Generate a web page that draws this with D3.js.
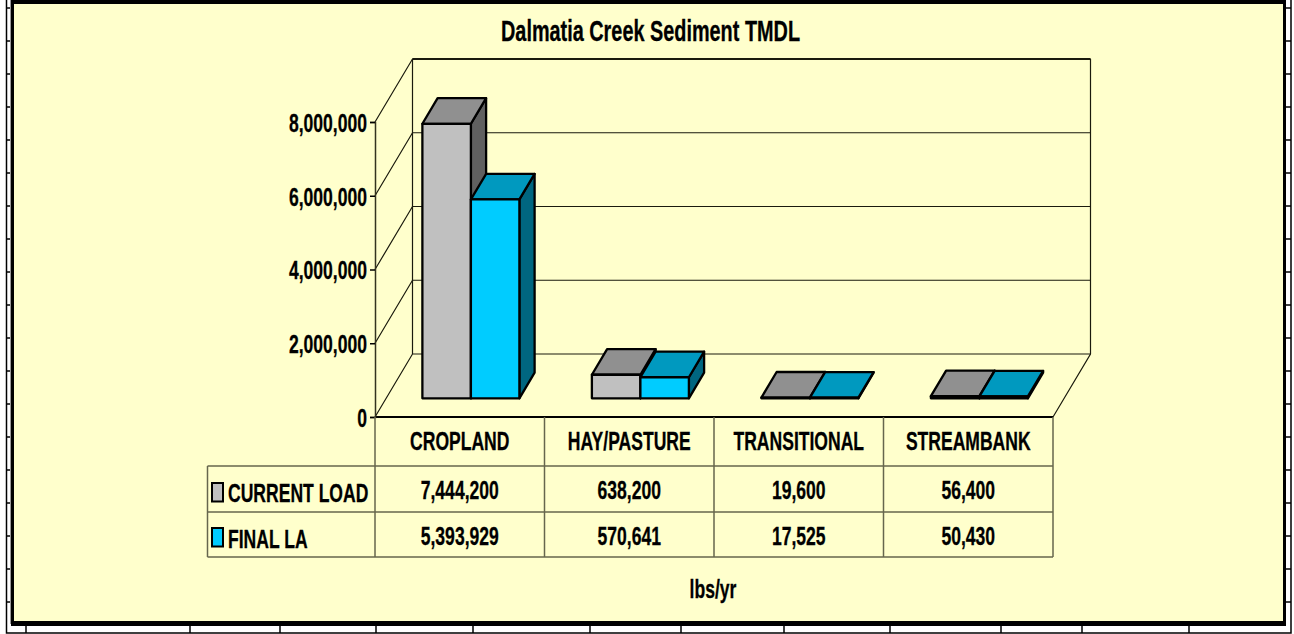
<!DOCTYPE html>
<html>
<head>
<meta charset="utf-8">
<style>
html,body{margin:0;padding:0;background:#fff;}
svg{display:block;}
text{font-family:"Liberation Sans",Arial,sans-serif;font-weight:bold;fill:#000;stroke:#000;stroke-width:0.3px;}
</style>
<script src="https://cdn.jsdelivr.net/npm/d3@7"></script>
</head>
<body>
<svg id="chart" width="1294" height="634"></svg>
<script>
const chartTitle = "Dalmatia Creek Sediment TMDL";
const unitLabel = "lbs/yr";
const categories = ["CROPLAND", "HAY/PASTURE", "TRANSITIONAL", "STREAMBANK"];
const seriesNames = ["CURRENT LOAD", "FINAL LA"];
const currentLoad = [7444200, 638200, 19600, 56400];
const finalLA = [5393929, 570641, 17525, 50430];
const yTicks = [0, 2000000, 4000000, 6000000, 8000000];
const sheetColumns = [26, 190, 280, 376, 473, 590, 681, 784, 890, 1001, 1082, 1189];
const sheetRows = d3.range(8, 620, 33);
const frontColors = ["#C0C0C0", "#00CCFF"];
const topColors = ["#909090", "#0099BF"];
const sideColors = ["#606060", "#006680"];

const seriesValues = [currentLoad, finalLA];
const svg = d3.select("#chart");
const NARROW = 0.675;

// Worksheet showing behind the chart
const sheet = svg.append("g").attr("stroke", "#000").attr("stroke-width", 1.5);
sheet.append("path").attr("fill", "none").attr("d", "M6.5,0V633H1291V0");
sheet.selectAll(".colTick").data(sheetColumns).join("line")
  .attr("x1", d => d).attr("x2", d => d).attr("y1", 624).attr("y2", 633);
sheet.selectAll(".rowL").data(sheetRows).join("line")
  .attr("x1", 7).attr("x2", 12).attr("y1", d => d).attr("y2", d => d);
sheet.selectAll(".rowR").data(sheetRows).join("line")
  .attr("x1", 1285).attr("x2", 1291).attr("y1", d => d).attr("y2", d => d);
svg.append("line").attr("x1", 10.5).attr("x2", 10.5).attr("y1", 0).attr("y2", 624)
  .attr("stroke", "#999").attr("stroke-width", 1);

// Chart area with its heavy frame
svg.append("rect").attr("x", 11).attr("y", 0).attr("width", 1275).attr("height", 626).attr("fill", "#000");
svg.append("rect").attr("x", 14).attr("y", 4).attr("width", 1269).attr("height", 617).attr("fill", "#FFFFCC");

// Scales
const x = d3.scaleBand().domain(categories).range([375, 1053]);
const barGroup = 97;
const s = d3.scaleBand().domain(seriesNames)
  .range([(x.bandwidth() - barGroup) / 2, (x.bandwidth() + barGroup) / 2]);
const y = d3.scaleLinear().domain([0, 8000000]).range([417, 122]);
const depthX = d3.scaleLinear().domain([0, 1]).range([0, 37.5]);
const depthY = d3.scaleLinear().domain([0, 1]).range([0, -63]);
const project = (px, v, d) => [px + depthX(d), y(v) + depthY(d)];
const line3 = d3.line();

function narrowText(sel, px, py, anchor, size, str, narrow = NARROW) {
  return sel.append("text")
    .attr("transform", `translate(${px},${py}) scale(${narrow},1)`)
    .attr("text-anchor", anchor)
    .attr("font-size", size)
    .text(str);
}

// Walls and floor
const walls = svg.append("g").attr("fill", "none").attr("stroke", "#1a1a0d").attr("stroke-width", 1.2);
const x0 = x.range()[0], x1 = x.range()[1];
walls.selectAll(".grid").data(yTicks).join("path")
  .attr("d", t => line3([project(x0, t, 0), project(x0, t, 1), project(x1, t, 1)]));
walls.append("path").attr("d", line3([project(x0, 0, 1), project(x0, 8000000, 1)]));
walls.append("path").attr("d", line3([project(x1, 8000000, 1), project(x1, 0, 1), project(x1, 0, 0)]));
walls.append("path").attr("stroke-width", 2).attr("stroke", "#000").attr("d", line3([project(x0, 0, 0), project(x1, 0, 0)]));
walls.append("path").attr("stroke-width", 2).attr("d", line3([project(x0, 8000000, 1), project(x1, 8000000, 1)]));

// 3D bars
const depthFront = 0.297, depthBack = 0.703;
const bars = svg.append("g").attr("stroke", "#000").attr("stroke-width", 2.3).attr("stroke-linejoin", "round");
categories.forEach((c, ci) => {
  seriesNames.forEach((n, si) => {
    const v = seriesValues[si][ci];
    const l = x(c) + s(n), r = l + s.bandwidth();
    const f = (px, val) => project(px, val, depthFront);
    const b = (px, val) => project(px, val, depthBack);
    bars.append("path").attr("fill", sideColors[si]).attr("d", line3([f(r, 0), b(r, 0), b(r, v), f(r, v)]) + "Z");
    bars.append("path").attr("fill", topColors[si]).attr("d", line3([f(l, v), b(l, v), b(r, v), f(r, v)]) + "Z");
    bars.append("path").attr("fill", frontColors[si]).attr("d", line3([f(l, 0), f(r, 0), f(r, v), f(l, v)]) + "Z");
  });
});

// Value axis
const axis = svg.append("g").attr("transform", `translate(${x0},0)`)
  .call(d3.axisLeft(y).tickValues(yTicks).tickSize(5).tickPadding(3).tickFormat(d3.format(",")));
axis.select(".domain").attr("stroke", "#33331f").attr("stroke-width", 1.5);
axis.selectAll("line").attr("stroke", "#000").attr("stroke-width", 1.5);
axis.selectAll("text")
  .attr("font-size", 26).attr("dy", "0.36em")
  .attr("x", -8 / NARROW).attr("transform", `scale(${NARROW},1)`);
axis.attr("font-family", null).attr("font-size", null);

// Data table
const tableTop = 417, rowLines = [466, 512, 557], tableLeft = 207.5;
const table = svg.append("g");
table.selectAll(".h").data(rowLines).join("line")
  .attr("x1", (d) => tableLeft).attr("x2", x1).attr("y1", d => d).attr("y2", d => d)
  .attr("stroke", "#1a1a0d").attr("stroke-width", 1.2);
const colEdges = categories.map(c => x(c)).concat([x1]);
table.selectAll(".v").data(colEdges).join("line")
  .attr("x1", d => d).attr("x2", d => d).attr("y1", tableTop).attr("y2", 557)
  .attr("stroke", "#66664D").attr("stroke-width", 1.5);
table.append("line").attr("x1", tableLeft).attr("x2", tableLeft).attr("y1", 466).attr("y2", 557)
  .attr("stroke", "#66664D").attr("stroke-width", 1.5);

const catBase = 450, rowBases = [499, 545];
categories.forEach((c, ci) => {
  const cx = x(c) + x.bandwidth() / 2;
  narrowText(svg, cx, catBase, "middle", 26, c);
  seriesNames.forEach((n, si) => {
    narrowText(svg, cx, rowBases[si], "middle", 26, d3.format(",")(seriesValues[si][ci]));
  });
});
const keyTops = [483, 528];
seriesNames.forEach((n, si) => {
  svg.append("rect").attr("x", 212).attr("y", keyTops[si]).attr("width", 11).attr("height", 18.5)
    .attr("fill", frontColors[si]).attr("stroke", "#000").attr("stroke-width", 2);
  narrowText(svg, 228, rowBases[si] + 3, "start", 26, n);
});

narrowText(svg, 650.5, 41, "middle", 29, chartTitle, 0.685);
narrowText(svg, 713, 598, "middle", 26, unitLabel);
</script>
</body>
</html>
